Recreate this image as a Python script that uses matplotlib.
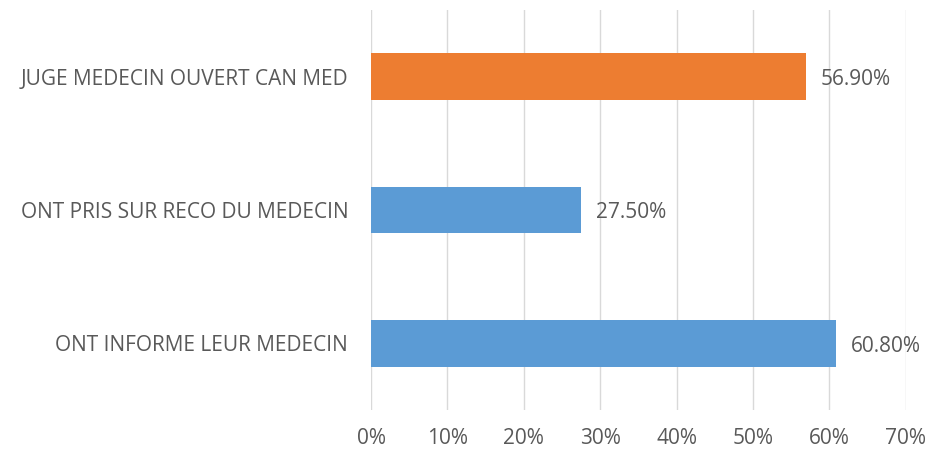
import matplotlib.pyplot as plt
from matplotlib.ticker import PercentFormatter

# Donnees
categories = ["ONT INFORME LEUR MEDECIN", "ONT PRIS SUR RECO DU MEDECIN", "JUGE MEDECIN OUVERT CAN MED"]
values = [0.608, 0.275, 0.569]
labels = ["60.80%", "27.50%", "56.90%"]
colors = ["#5B9BD5", "#5B9BD5", "#ED7D31"]

plt.rcParams['font.family'] = ['Open Sans', 'DejaVu Sans']
text_color = "#595959"
fs = 15

fig = plt.figure(figsize=(9.3, 4.5), dpi=100)
ax = fig.add_axes([0.399, 0.089, 0.575, 0.889])

ypos = range(len(categories))
ax.barh(ypos, values, height=0.35, color=colors, zorder=3)

for y, v, lab in zip(ypos, values, labels):
    ax.annotate(lab, (v, y), xytext=(11, -2), textcoords='offset points',
                va='center', ha='left', fontsize=fs, color=text_color)

ax.set_xlim(0, 0.7)
ax.set_ylim(-0.5, 2.5)
ax.set_xticks([i / 10 for i in range(8)])
ax.xaxis.set_major_formatter(PercentFormatter(1.0, decimals=0))
ax.set_yticks(list(ypos))
ax.set_yticklabels(categories)
ax.tick_params(axis='both', length=0, labelsize=fs, colors=text_color)
ax.tick_params(axis='y', pad=16.5)
ax.tick_params(axis='x', pad=13)
ax.grid(axis='x', color='#D9D9D9', linewidth=1, zorder=0)
for s in ax.spines.values():
    s.set_visible(False)

fig.savefig("out.png", dpi=100)
